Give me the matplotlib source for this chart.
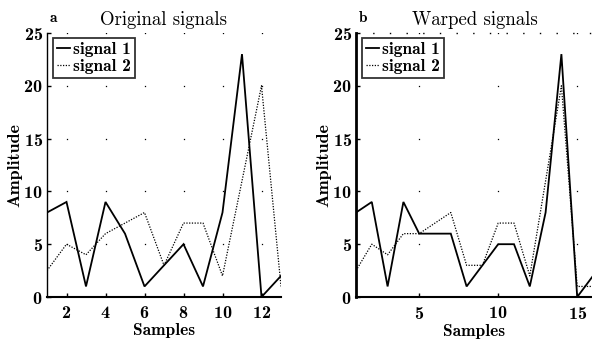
import numpy as np
import matplotlib
matplotlib.use("Agg")
import matplotlib.pyplot as plt

plt.rcParams["axes.formatter.use_mathtext"] = True

# Original signals (13 samples)
orig_x = list(range(1, 14))
orig_s1 = [8, 9, 1, 9, 6, 1, 3, 5, 1, 8, 23, 0, 2]
orig_s2 = [2.5, 5, 4, 6, 7, 8, 3, 7, 7, 2, 11, 20, 1]

# Warped signals (16 samples after alignment)
warp_x = list(range(1, 17))
warp_s1 = [8, 9, 1, 9, 6, 6, 6, 1, 3, 5, 5, 1, 8, 23, 0, 2]
warp_s2 = [2.5, 5, 4, 6, 6, 7, 8, 3, 3, 7, 7, 2, 11, 20, 1, 1]

y_ticks = [0, 5, 10, 15, 20, 25]
left_xticks = [2, 4, 6, 8, 10, 12]
right_xticks = [5, 10, 15]

W, H = 592, 341
fig = plt.figure(figsize=(W / 100, H / 100), dpi=100)

BOLD = "cmb10"
REG = "cmr10"


def setup(ax, x, s1, s2, xticks, title, letter, left_lw):
    ax.plot(x, s1, color="black", lw=1.3, solid_joinstyle="miter", label="signal 1", zorder=3)
    ax.plot(x, s2, color="black", lw=0.9, linestyle=(0, (1.0, 1.2)), label="signal 2", zorder=3)
    # sparse grid dots at tick intersections
    gx, gy = np.meshgrid(xticks, y_ticks)
    ax.plot(gx.ravel(), gy.ravel(), linestyle="none", marker="s", ms=0.9,
            color="black", mew=0, zorder=1)
    ax.set_xlim(x[0], x[-1])
    ax.set_ylim(0, 25)
    ax.set_xticks(xticks)
    ax.set_yticks(y_ticks)
    ax.tick_params(direction="in", length=3, width=1, labelsize=13)
    ax.tick_params(axis="x", pad=6)
    ax.tick_params(axis="y", pad=3)
    for lab in ax.get_xticklabels() + ax.get_yticklabels():
        lab.set_fontfamily(BOLD)
    ax.spines["right"].set_visible(False)
    ax.spines["top"].set_visible(False)
    ax.spines["left"].set_linewidth(left_lw)
    ax.spines["bottom"].set_linewidth(1.5)
    ax.set_xlabel("Samples", fontfamily=BOLD, fontsize=12.5, labelpad=1.5)
    ax.set_ylabel("Amplitude", fontfamily=BOLD, fontsize=13, labelpad=1)
    ax.set_title(title, fontfamily=REG, fontsize=13.5, pad=6)
    ax.text(0.012, 1.04, letter, transform=ax.transAxes, fontfamily=BOLD,
            fontsize=11, ha="left", va="baseline")
    leg = ax.legend(loc="upper left", bbox_to_anchor=(0.025, 0.982), frameon=True,
                    fancybox=False, handlelength=0.75, handletextpad=0.15,
                    borderpad=0.25, borderaxespad=0, labelspacing=0.1,
                    prop={"family": BOLD, "size": 12.5})
    leg.get_frame().set_edgecolor("black")
    leg.get_frame().set_linewidth(1.3)
    return ax


ax1 = fig.add_axes([47 / W, 1 - 297 / H, 234 / W, 264 / H])
setup(ax1, orig_x, orig_s1, orig_s2, left_xticks, "Original signals", "a", 1.0)

ax2 = fig.add_axes([356 / W, 1 - 297 / H, 237 / W, 264 / H])
setup(ax2, warp_x, warp_s1, warp_s2, right_xticks, "Warped signals", "b", 2.0)
ax2.axhline(25, color="black", lw=1.0, linestyle=(0, (1, 11)), clip_on=False)

fig.savefig("out.png", dpi=100, facecolor="white")
